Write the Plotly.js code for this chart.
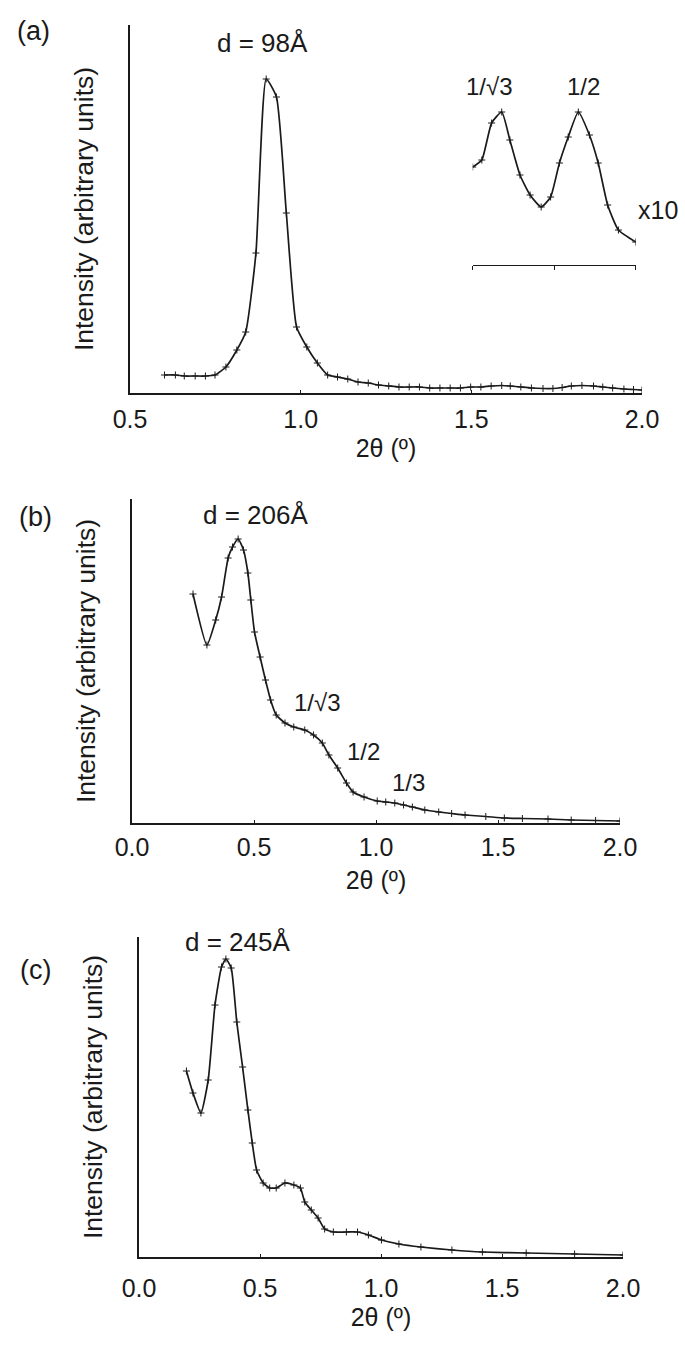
<!DOCTYPE html>
<html>
<head>
<meta charset="utf-8">
<script src="https://cdn.plot.ly/plotly-3.0.1.min.js"></script>
<style>html,body{margin:0;padding:0;background:#fff;}#chart{width:685px;height:1348px;}</style>
</head>
<body>
<div id="chart"></div>
<script>
// ---- data ----
// (a) d = 98 Å
const aTwoTheta = [0.601, 0.633, 0.659, 0.691, 0.721, 0.749, 0.781, 0.813, 0.839, 0.869, 0.899, 0.929, 0.958, 0.988, 1.018, 1.049, 1.079, 1.108, 1.138, 1.168, 1.198, 1.228, 1.258, 1.288, 1.318, 1.348, 1.378, 1.408, 1.438, 1.468, 1.498, 1.528, 1.558, 1.589, 1.614, 1.645, 1.676, 1.710, 1.739, 1.766, 1.793, 1.824, 1.858, 1.885, 1.914, 1.947, 1.975, 2.000];
const aIntensity = [18, 18, 17, 17, 17, 18, 26, 43, 61, 140, 314, 296, 180, 66, 46, 30, 18, 16, 14, 11, 10, 8, 7, 6, 6, 6, 5, 5, 5, 5, 6, 6, 7, 7.5, 7, 6, 5, 4.5, 4.5, 5.5, 7, 7.5, 7, 6, 5, 4, 3.5, 3];
// (a) inset, x10
const insetTwoTheta = [1.500, 1.528, 1.558, 1.589, 1.614, 1.645, 1.676, 1.710, 1.739, 1.766, 1.793, 1.824, 1.858, 1.885, 1.914, 1.947, 2.000];
const insetIntensity = [98, 105, 142, 153, 125, 90, 70, 58, 68, 102, 128, 153, 130, 102, 60, 35, 23];
// (b) d = 206 Å
const bTwoTheta = [0.250, 0.307, 0.343, 0.367, 0.394, 0.412, 0.435, 0.457, 0.475, 0.487, 0.502, 0.525, 0.547, 0.568, 0.591, 0.627, 0.663, 0.708, 0.744, 0.780, 0.807, 0.843, 0.879, 0.906, 0.951, 1.005, 1.040, 1.077, 1.113, 1.149, 1.200, 1.257, 1.310, 1.365, 1.450, 1.526, 1.600, 1.705, 1.800, 1.900, 2.000];
const bIntensity = [229, 178, 203, 226, 265, 276, 284, 273, 250, 223, 191, 166, 143, 123, 108, 100, 96, 93, 88, 80, 68, 55, 40, 31, 26, 22, 21, 20, 18, 16, 13, 11, 9.5, 8, 6.5, 5, 4.5, 4, 3, 2.5, 2];
// (c) d = 245 Å
const cTwoTheta = [0.196, 0.223, 0.256, 0.286, 0.314, 0.341, 0.359, 0.381, 0.404, 0.428, 0.450, 0.468, 0.486, 0.513, 0.540, 0.567, 0.603, 0.640, 0.667, 0.685, 0.712, 0.740, 0.767, 0.803, 0.857, 0.903, 0.948, 1.002, 1.074, 1.165, 1.293, 1.419, 1.600, 1.800, 2.000];
const cIntensity = [186, 164, 144, 177, 252, 290, 298, 289, 235, 190, 147, 114, 87, 74, 69, 69, 74, 72, 69, 55, 47, 39, 28, 25, 25, 25, 22, 17, 13, 10, 7, 5, 4, 3, 2];

const panelLabels = ['(a)', '(b)', '(c)'];
const spacingLabels = ['d = 98Å', 'd = 206Å', 'd = 245Å'];
const insetPeakLabels = ['1/√3', '1/2'];
const bPeakLabels = ['1/√3', '1/2', '1/3'];
const xTitle = '2θ (º)';
const yTitle = 'Intensity (arbitrary units)';

// ---- layout helpers ----
const W = 685, H = 1348;
const px = x => x / W;
const py = y => 1 - y / H;
const FONT = 'Liberation Sans, Arial, Helvetica, sans-serif';
const INK = '#1a1a1a';

const lineStyle = {color: INK, width: 1.7, shape: 'spline', smoothing: 0.5};
const markerStyle = {symbol: 'cross-thin', size: 5, color: INK, line: {color: INK, width: 1}};

const traces = [
  {x: aTwoTheta, y: aIntensity, xaxis: 'x', yaxis: 'y', mode: 'lines+markers', line: lineStyle, marker: markerStyle},
  {x: bTwoTheta, y: bIntensity, xaxis: 'x2', yaxis: 'y2', mode: 'lines+markers', line: lineStyle, marker: markerStyle},
  {x: cTwoTheta, y: cIntensity, xaxis: 'x3', yaxis: 'y3', mode: 'lines+markers', line: lineStyle, marker: markerStyle},
  {x: insetTwoTheta, y: insetIntensity, xaxis: 'x4', yaxis: 'y4', mode: 'lines+markers', line: lineStyle, marker: markerStyle}
];

function xAx(domain, range, anchor, standoffLbl, standoffTitle) {
  return {
    domain: domain, range: range, anchor: anchor,
    showline: true, linecolor: INK, linewidth: 1.6,
    showgrid: false, zeroline: false,
    ticks: 'inside', ticklen: 3, tickwidth: 1, tickcolor: INK,
    dtick: 0.5, tick0: 0, tickformat: '.1f',
    tickfont: {family: FONT, size: 25, color: INK},
    ticklabelstandoff: standoffLbl,
    title: {text: xTitle, font: {family: FONT, size: 25, color: INK}, standoff: standoffTitle},
    fixedrange: true
  };
}
function yAx(domain, range, anchor) {
  return {
    domain: domain, range: range, anchor: anchor,
    showline: true, linecolor: INK, linewidth: 1.6,
    showgrid: false, zeroline: false, ticks: '', showticklabels: false,
    title: {text: yTitle, font: {family: FONT, size: 26.5, color: INK}, standoff: 27},
    fixedrange: true
  };
}

function ann(text, x, y, size) {
  return {text: text, xref: 'paper', yref: 'paper', x: px(x), y: py(y),
          xanchor: 'center', yanchor: 'middle', showarrow: false,
          font: {family: FONT, size: size || 24, color: INK}};
}

const layout = {
  width: W, height: H,
  margin: {l: 0, r: 0, t: 0, b: 0},
  paper_bgcolor: '#ffffff', plot_bgcolor: 'rgba(0,0,0,0)',
  showlegend: false,
  xaxis: xAx([px(130), px(642)], [0.5, 2.0], 'y', 3, 8),
  yaxis: yAx([py(393), py(25)], [0, 368], 'x'),
  xaxis2: xAx([px(132), px(620)], [0, 2.0], 'y2', 1, 12),
  yaxis2: yAx([py(823), py(499)], [0, 324], 'x2'),
  xaxis3: xAx([px(139), px(623)], [0, 2.0], 'y3', 8, 8),
  yaxis3: yAx([py(1257), py(937)], [0, 320], 'x3'),
  xaxis4: {domain: [px(472.7), px(635.7)], range: [1.5, 2.0], anchor: 'y4',
           showline: true, linecolor: INK, linewidth: 1.4, showgrid: false, zeroline: false,
           ticks: 'outside', ticklen: 4, tickwidth: 1, tickcolor: INK,
           tickvals: [1.5, 1.75, 2.0], showticklabels: false, fixedrange: true},
  yaxis4: {domain: [py(265), py(105)], range: [0, 160], anchor: 'x4',
           visible: false, fixedrange: true},
  annotations: [
    ann(panelLabels[0], 33, 31, 27),
    ann(panelLabels[1], 35, 517, 27),
    ann(panelLabels[2], 35, 970, 27),
    ann(spacingLabels[0], 262, 43, 26),
    ann(spacingLabels[1], 256, 515, 26),
    ann(spacingLabels[2], 237, 942, 26),
    ann(insetPeakLabels[0], 489, 86, 24),
    ann(insetPeakLabels[1], 583, 86, 24),
    ann('x10', 658, 210, 25),
    ann(bPeakLabels[0], 317, 702, 24),
    ann(bPeakLabels[1], 363, 751, 24),
    ann(bPeakLabels[2], 408, 782, 24)
  ]
};

Plotly.newPlot('chart', traces, layout, {displayModeBar: false, staticPlot: true});
</script>
</body>
</html>
